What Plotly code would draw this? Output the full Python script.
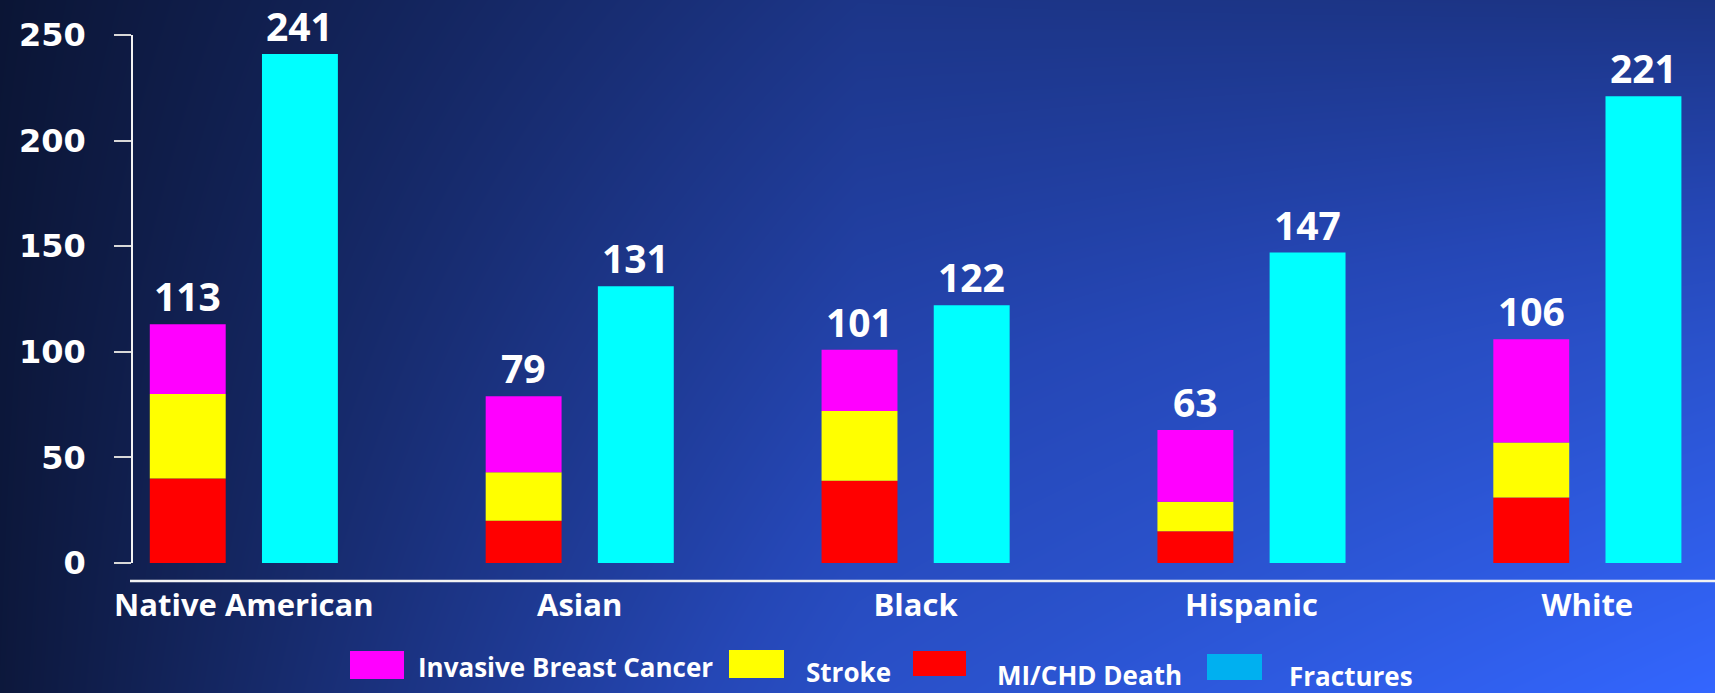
import numpy as np
import plotly.graph_objects as go

# Events per group (stacked outcomes + fractures)
categories = ["Native American", "Asian", "Black", "Hispanic", "White"]
mi_chd = [40, 20, 39, 15, 31]
stroke = [40, 23, 33, 14, 26]
breast_cancer = [33, 36, 29, 34, 49]
fractures = [241, 131, 122, 147, 221]

y_ticks = [0, 50, 100, 150, 200, 250]

# Background shading levels on a coarse grid (rows bottom -> top)
bg_levels = [
    [0.03, 0.72, 1.00],
    [0.02, 0.55, 0.75],
    [0.00, 0.38, 0.36],
]
bg_scale = [
    [0.0, "#0b1535"],
    [0.35, "#1b3382"],
    [0.6, "#2547b6"],
    [0.75, "#2a52cc"],
    [1.0, "#3366ff"],
]

W, H = 1715, 693
plot_left, plot_top, plot_bottom = 133, 35, 563

idx = np.arange(len(categories))
stack_x = idx - 0.167
frac_x = idx + 0.167
bar_w = 0.226

mi = np.array(mi_chd)
st = np.array(stroke)
bc = np.array(breast_cancer)
totals = mi + st + bc

fig = go.Figure()

# full-page background gradient
fig.add_trace(go.Heatmap(
    x=[0, 0.5, 1], y=[0, 0.5, 1], z=bg_levels,
    colorscale=bg_scale, zmin=0, zmax=1, zsmooth="best",
    showscale=False, hoverinfo="skip", xaxis="x", yaxis="y",
))

fig.add_trace(go.Bar(x=stack_x, y=mi, base=0, width=bar_w, marker_color="#ff0000",
                     marker_line_width=0, name="MI/CHD Death", xaxis="x2", yaxis="y2"))
fig.add_trace(go.Bar(x=stack_x, y=st, base=mi, width=bar_w, marker_color="#ffff00",
                     marker_line_width=0, name="Stroke", xaxis="x2", yaxis="y2"))
fig.add_trace(go.Bar(x=stack_x, y=bc, base=mi + st, width=bar_w, marker_color="#ff00ff",
                     marker_line_width=0, name="Invasive Breast Cancer", xaxis="x2", yaxis="y2"))
fig.add_trace(go.Bar(x=frac_x, y=fractures, base=0, width=bar_w, marker_color="#00ffff",
                     marker_line_width=0, name="Fractures", xaxis="x2", yaxis="y2"))

annotations = []
value_font = dict(family="Open Sans", size=39, color="white", weight="bold")
for xs, vals in ((stack_x, totals), (frac_x, fractures)):
    for xv, v in zip(xs, vals):
        annotations.append(dict(
            x=xv, y=v, xref="x2", yref="y2", text=str(int(v)),
            showarrow=False, yanchor="bottom", yshift=0, font=value_font,
        ))

# legend built from boxes and labels
legend_items = [
    ("Invasive Breast Cancer", "#ff00ff", (350, 404, 651, 679), (416, 667)),
    ("Stroke", "#ffff00", (729, 784, 650, 678), (804, 672)),
    ("MI/CHD Death", "#ff0000", (913, 966, 651, 676), (995, 675)),
    ("Fractures", "#00b0f0", (1207, 1262, 654, 680), (1287, 676)),
]
shapes = []
for label, color, (bx0, bx1, by0, by1), (tx, ty) in legend_items:
    shapes.append(dict(
        type="rect", xref="paper", yref="paper",
        x0=bx0 / W, x1=bx1 / W, y0=1 - by1 / H, y1=1 - by0 / H,
        fillcolor=color, line_width=0,
    ))
    annotations.append(dict(
        x=tx / W, y=1 - ty / H, xref="paper", yref="paper", text=label,
        showarrow=False, xanchor="left", yanchor="middle",
        font=dict(family="Open Sans", size=26, color="white", weight="bold"),
    ))

# baseline drawn a little below the value axis
shapes.append(dict(
    type="line", xref="paper", yref="paper",
    x0=130 / W, x1=1, y0=1 - 581 / H, y1=1 - 581 / H,
    line=dict(color="#f2f2f2", width=2.5),
))

fig.update_layout(
    template="none",
    width=W, height=H,
    margin=dict(l=0, r=0, t=0, b=0, autoexpand=False),
    paper_bgcolor="#0b1535", plot_bgcolor="rgba(0,0,0,0)",
    showlegend=False, barmode="overlay",
    xaxis=dict(domain=[0, 1], range=[0, 1], visible=False, fixedrange=True,
               automargin=False),
    yaxis=dict(domain=[0, 1], range=[0, 1], visible=False, fixedrange=True,
               automargin=False),
    xaxis2=dict(
        domain=[plot_left / W, 1], range=[-0.33, 4.38], anchor="y2",
        tickvals=idx, ticktext=categories, ticks="", showline=False,
        showgrid=False, zeroline=False, ticklabelstandoff=21, automargin=False,
        tickfont=dict(family="Open Sans", size=31, color="white", weight="bold"),
    ),
    yaxis2=dict(
        domain=[1 - plot_bottom / H, 1 - plot_top / H], range=[0, 250], anchor="x2",
        tickvals=y_ticks, showline=True, linecolor="#f2f2f2", linewidth=1.5,
        ticks="outside", ticklen=17, tickcolor="#d8d8d8", tickwidth=1.5,
        showgrid=False, zeroline=False, ticklabelstandoff=22, automargin=False,
        tickfont=dict(family="DejaVu Sans", size=32, color="white", weight="bold"),
    ),
    annotations=annotations,
    shapes=shapes,
)

fig.write_html("out.html")
